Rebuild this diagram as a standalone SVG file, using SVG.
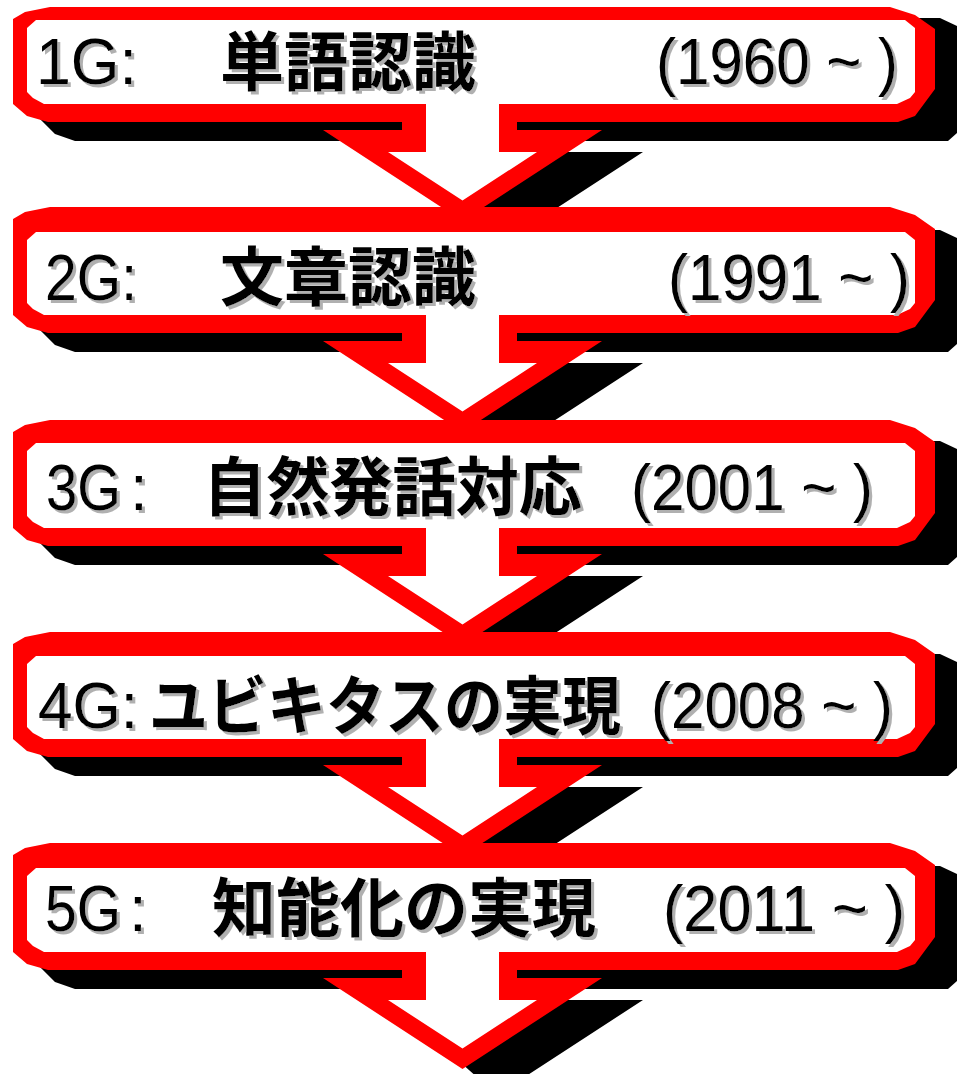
<svg xmlns="http://www.w3.org/2000/svg" width="959" height="1074" viewBox="0 0 959 1074">
<defs>
<filter id="ts" x="-5%" y="-10%" width="115%" height="130%">
<feFlood flood-color="#b0b0b0"/>
<feComposite in2="SourceAlpha" operator="in"/>
<feOffset dx="3" dy="3" result="s"/>
<feMerge><feMergeNode in="s"/><feMergeNode in="SourceGraphic"/></feMerge>
</filter>
</defs>
<style>
.sh{fill:#000}
.rd{fill:#ff0000}
.wh{fill:#fff}
.lat{font-family:"Liberation Sans",Arial,"Noto Sans CJK JP",sans-serif;font-size:64px;fill:#000}
.cjk{font-family:"Noto Sans CJK JP","Noto Sans CJK SC",sans-serif;font-size:64px;font-weight:700;fill:#000}
</style>
<rect width="959" height="1074" fill="#fff"/>
<g id="connectors"/>

<g id="node1">
<path class="sh" d="M45,18 L940,18 L957,26 L957,133 L948,141 L541,141 L541,152 L643,152 L497,247 L460,214 L426,141 L75,141 L55,134 L40,119 Z"/>
<path class="rd" d="M50,7 L890,7 L915,15 L935,29 L935,89 L915,116 L898,122 L517,122 L517,130 L602,130 L462.5,221 L323,130 L402,130 L402,122 L48,122 L27,116 L13,104 L13,19 L25,12 Z"/>
<path class="wh" d="M36,20 L905,20 L915,28 L915,92 L910,98 L897,104 L499,104 L499,152 L537,152 L462.5,200.6 L388,152 L426,152 L426,104 L44,104 L33,98 L27,92 L27,28 Z"/>
<g filter="url(#ts)">
<text class="lat" x="36" y="84" textLength="101" lengthAdjust="spacingAndGlyphs">1G:</text>
<text class="cjk" x="220" y="85" textLength="256" lengthAdjust="spacingAndGlyphs">単語認識</text>
<text class="lat" x="656" y="84" textLength="242" lengthAdjust="spacingAndGlyphs">(1960 ~ )</text>
</g>
</g>

<g id="node2">
<path class="sh" d="M45,230 L940,230 L957,238 L957,344 L948,352 L541,352 L541,363 L643,363 L497,458 L460,425 L426,352 L75,352 L55,345 L40,330 Z"/>
<path class="rd" d="M50,207 L890,207 L915,215 L935,229 L935,300 L915,327 L898,333 L517,333 L517,341 L602,341 L462.5,432 L323,341 L402,341 L402,333 L48,333 L27,327 L13,315 L13,219 L25,212 Z"/>
<path class="wh" d="M36,232 L905,232 L915,240 L915,303 L910,309 L897,315 L499,315 L499,363 L537,363 L462.5,411.6 L388,363 L426,363 L426,315 L44,315 L33,309 L27,303 L27,240 Z"/>
<g filter="url(#ts)">
<text class="lat" x="45" y="300" textLength="92" lengthAdjust="spacingAndGlyphs">2G:</text>
<text class="cjk" x="220" y="300" textLength="256" lengthAdjust="spacingAndGlyphs">文章認識</text>
<text class="lat" x="668" y="300" textLength="242" lengthAdjust="spacingAndGlyphs">(1991 ~ )</text>
</g>
</g>

<g id="node3">
<path class="sh" d="M45,441 L940,441 L957,449 L957,557 L948,565 L541,565 L541,576 L643,576 L497,671 L460,638 L426,565 L75,565 L55,558 L40,543 Z"/>
<path class="rd" d="M50,420 L890,420 L915,428 L935,442 L935,513 L915,540 L898,546 L517,546 L517,554 L602,554 L462.5,645 L323,554 L402,554 L402,546 L48,546 L27,540 L13,528 L13,432 L25,425 Z"/>
<path class="wh" d="M36,443 L905,443 L915,451 L915,516 L910,522 L897,528 L499,528 L499,576 L537,576 L462.5,624.6 L388,576 L426,576 L426,528 L44,528 L33,522 L27,516 L27,451 Z"/>
<g filter="url(#ts)">
<text class="lat" x="46" y="510"><tspan textLength="75" lengthAdjust="spacingAndGlyphs">3G</tspan><tspan x="130">:</tspan></text>
<text class="cjk" x="203" y="510" textLength="379" lengthAdjust="spacingAndGlyphs">自然発話対応</text>
<text class="lat" x="631" y="510" textLength="242" lengthAdjust="spacingAndGlyphs">(2001 ~ )</text>
</g>
</g>

<g id="node4">
<path class="sh" d="M45,654 L940,654 L957,662 L957,768 L948,776 L541,776 L541,787 L643,787 L497,882 L460,849 L426,776 L75,776 L55,769 L40,754 Z"/>
<path class="rd" d="M50,632 L890,632 L915,640 L935,654 L935,724 L915,751 L898,757 L517,757 L517,765 L602,765 L462.5,856 L323,765 L402,765 L402,757 L48,757 L27,751 L13,739 L13,644 L25,637 Z"/>
<path class="wh" d="M36,656 L905,656 L915,664 L915,727 L910,733 L897,739 L499,739 L499,787 L537,787 L462.5,835.6 L388,787 L426,787 L426,739 L44,739 L33,733 L27,727 L27,664 Z"/>
<g filter="url(#ts)">
<text class="lat" x="38" y="728" textLength="100" lengthAdjust="spacingAndGlyphs">4G:</text>
<text class="cjk" x="149" y="729" textLength="472" lengthAdjust="spacingAndGlyphs">ユビキタスの実現</text>
<text class="lat" x="651" y="728" textLength="242" lengthAdjust="spacingAndGlyphs">(2008 ~ )</text>
</g>
</g>

<g id="node5">
<path class="sh" d="M45,866 L940,866 L957,874 L957,981 L948,989 L541,989 L541,1000 L643,1000 L497,1095 L460,1062 L426,989 L75,989 L55,982 L40,967 Z"/>
<path class="rd" d="M50,843 L890,843 L915,851 L935,865 L935,937 L915,964 L898,970 L517,970 L517,978 L602,978 L462.5,1069 L323,978 L402,978 L402,970 L48,970 L27,964 L13,952 L13,855 L25,848 Z"/>
<path class="wh" d="M36,868 L905,868 L915,876 L915,940 L910,946 L897,952 L499,952 L499,1000 L537,1000 L462.5,1048.6 L388,1000 L426,1000 L426,952 L44,952 L33,946 L27,940 L27,876 Z"/>
<g filter="url(#ts)">
<text class="lat" x="45" y="931"><tspan textLength="76" lengthAdjust="spacingAndGlyphs">5G</tspan><tspan x="129">:</tspan></text>
<text class="cjk" x="212" y="931" textLength="384" lengthAdjust="spacingAndGlyphs">知能化の実現</text>
<text class="lat" x="663" y="931" textLength="242" lengthAdjust="spacingAndGlyphs">(2011 ~ )</text>
</g>
</g>
</svg>
